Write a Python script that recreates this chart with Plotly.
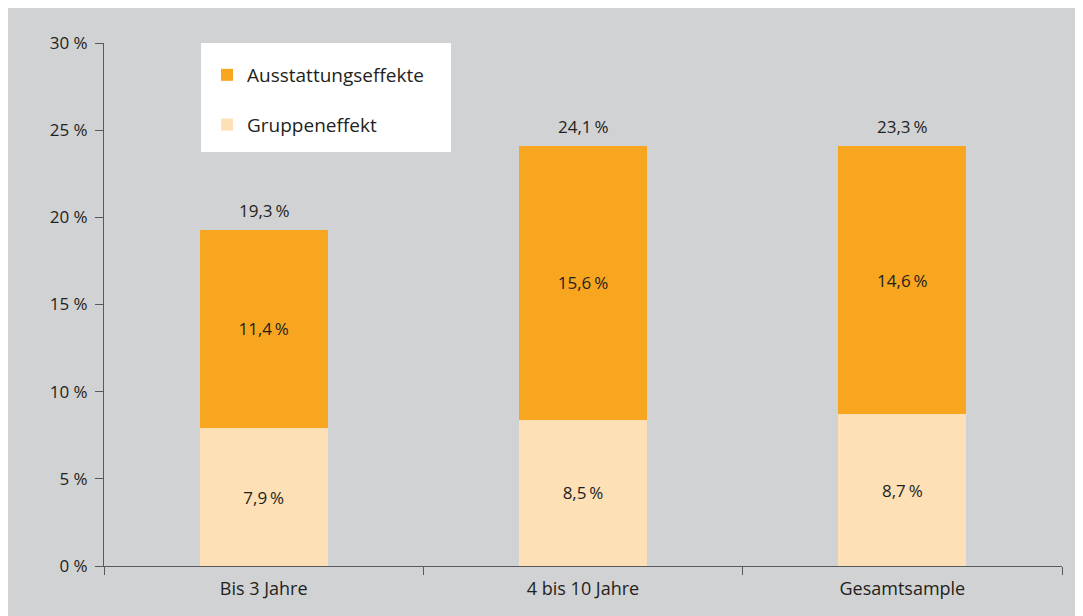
import plotly.graph_objects as go

categories = ["Bis 3 Jahre", "4 bis 10 Jahre", "Gesamtsample"]
# bar heights as drawn in the picture (in %)
gruppeneffekt = [7.9, 8.4, 8.7]
ausstattungseffekte = [11.4, 15.7, 15.4]
# printed labels
gruppe_labels = ["7,9\u2009%", "8,5\u2009%", "8,7\u2009%"]
ausstattung_labels = ["11,4\u2009%", "15,6\u2009%", "14,6\u2009%"]
total_labels = ["19,3\u2009%", "24,1\u2009%", "23,3\u2009%"]
y_ticks = [0, 5, 10, 15, 20, 25, 30]
y_tick_text = [f"{v} %" for v in y_ticks]

BG = "#d1d2d4"
ORANGE = "#f8a61f"
PEACH = "#fde0b6"
TXT = "#231f20"
AX = "#58595b"
FONT = "Open Sans"

fig = go.Figure()
fig.add_trace(go.Bar(
    x=categories, y=gruppeneffekt, name="Gruppeneffekt",
    marker=dict(color=PEACH, line=dict(width=0)),
    text=gruppe_labels, textposition="inside", insidetextanchor="middle",
    textfont=dict(color=TXT, size=17, family=FONT), width=0.4,
    legendgroup="g", legendrank=2, hoverinfo="skip",
))
fig.add_trace(go.Bar(
    x=categories, y=ausstattungseffekte, name="Ausstattungseffekte",
    marker=dict(color=ORANGE, line=dict(width=0)),
    text=ausstattung_labels, textposition="inside", insidetextanchor="middle",
    textfont=dict(color=TXT, size=17, family=FONT), width=0.4,
    legendgroup="a", legendrank=1, hoverinfo="skip",
))

for c, g, a, t in zip(categories, gruppeneffekt, ausstattungseffekte, total_labels):
    fig.add_annotation(x=c, y=g + a, text=t, showarrow=False, yanchor="bottom",
                       yshift=6, font=dict(color=TXT, size=17, family=FONT))

# white legend box
fig.add_shape(type="rect", xref="paper", yref="paper",
              x0=(201 - 104) / 958, x1=(451 - 104) / 958,
              y0=1 - (152 - 43) / 523, y1=1.0,
              fillcolor="white", line=dict(width=0), layer="below")

fig.update_layout(
    width=1073, height=608,
    margin=dict(l=96, r=19, t=35, b=50),
    paper_bgcolor=BG, plot_bgcolor=BG,
    barmode="stack",
    font=dict(family=FONT, color=TXT, size=17),
    showlegend=True,
    legend=dict(x=(207 - 104) / 958, y=1 - 13 / 523, xanchor="left", yanchor="top",
                bgcolor="rgba(0,0,0,0)", traceorder="grouped",
                tracegroupgap=22, font=dict(size=19, family=FONT, color=TXT),
                itemsizing="constant"),
    xaxis=dict(showline=True, linecolor=AX, linewidth=1, ticks="outside",
               tickson="boundaries", ticklen=8, tickcolor=AX, showgrid=False,
               ticklabelstandoff=6,
               tickfont=dict(size=18, family=FONT, color=TXT), fixedrange=True),
    yaxis=dict(range=[0, 30], showline=True, linecolor=AX, linewidth=1,
               ticks="outside", ticklen=8, tickcolor=AX, showgrid=False,
               zeroline=False, tickvals=y_ticks, ticktext=y_tick_text,
               ticklabelstandoff=4,
               tickfont=dict(size=17, family=FONT, color=TXT), fixedrange=True),
)

fig.write_html("out.html")
